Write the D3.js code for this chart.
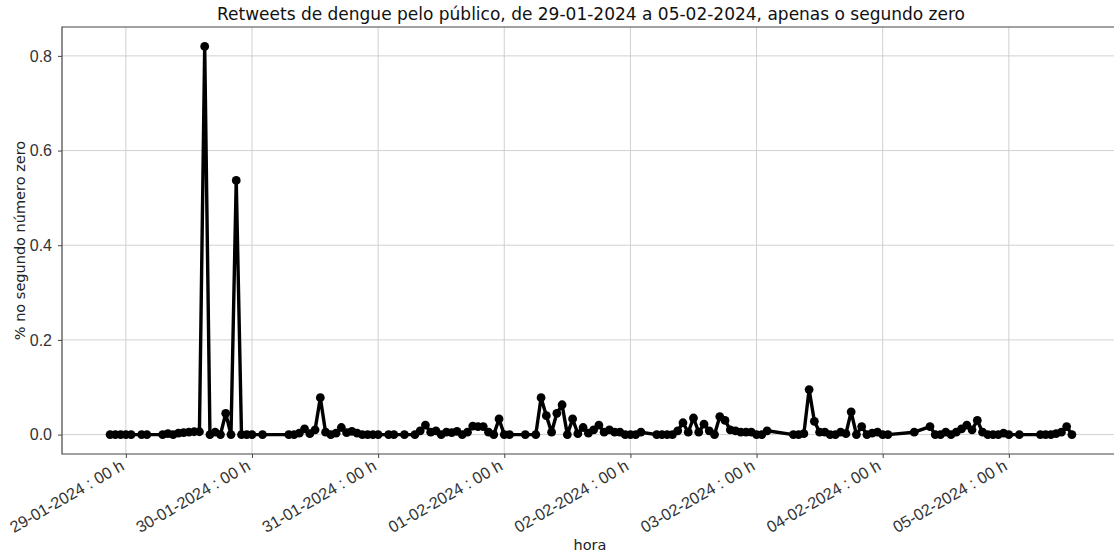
<!DOCTYPE html>
<html>
<head>
<meta charset="utf-8">
<script src="https://cdn.jsdelivr.net/npm/d3@7"></script>
<style>
  body { margin: 0; background: #fff; }
  svg { font-family: "DejaVu Sans", sans-serif; }
  .grid line { stroke: #cccccc; stroke-width: 0.9; }
  .axis text { fill: #333; font-size: 16px; }
  .axis path { display: none; }
  .axis line { stroke: #444; }
</style>
</head>
<body>
<svg width="1114" height="555"></svg>
<script>
// hours counted from 29-01-2024 00:00
var hours = [
  -3, -2, -1, 0, 1, 3, 4, 7, 8, 9, 10, 11, 12, 13, 14, 15, 16, 17, 18, 19, 20, 21, 22, 23, 24, 26,
  31, 32, 33, 34, 35, 36, 37, 38, 39, 40, 41, 42, 43, 44, 45, 46, 47, 48,
  50, 51, 53, 55, 56, 57, 58, 59, 60, 61, 62, 63, 64, 65, 66, 67, 68, 69, 70, 71, 72, 73, 76, 78,
  79, 80, 81, 82, 83, 84, 85, 86, 87, 88, 89, 90, 91, 92, 93, 94, 95, 96, 97, 98,
  101, 102, 103, 104, 105, 106, 107, 108, 109, 110, 111, 112, 113, 114, 115, 116, 117, 118, 119, 120, 121, 122,
  127, 128, 129, 130, 131, 132, 133, 134, 135, 136, 137, 138, 139, 140, 141, 142, 143, 144, 145,
  150, 153, 154, 155, 156, 157, 158, 159, 160, 161, 162, 163, 164, 165, 166, 167, 168, 170,
  174, 175, 176, 177, 178, 179, 180
];
var values = [
  0, 0, 0, 0, 0, 0, 0, 0, 0.002, 0, 0.003, 0.004, 0.005, 0.006, 0.006, 0.82, 0, 0.005, 0, 0.045, 0, 0.537, 0, 0, 0, 0,
  0, 0, 0.003, 0.012, 0.002, 0.01, 0.078, 0.005, 0, 0.003, 0.015, 0.004, 0.007, 0.003, 0, 0, 0, 0,
  0, 0, 0, 0, 0.008, 0.02, 0.005, 0.008, 0, 0.005, 0.004, 0.007, 0, 0.005, 0.018, 0.017, 0.017, 0.005, 0, 0.033, 0, 0, 0, 0,
  0.078, 0.04, 0.005, 0.045, 0.063, 0, 0.033, 0.002, 0.015, 0.003, 0.01, 0.02, 0.005, 0.01, 0.005, 0.005, 0, 0, 0, 0.005,
  0, 0, 0, 0, 0.008, 0.025, 0.005, 0.035, 0.005, 0.022, 0.008, 0, 0.038, 0.03, 0.01, 0.008, 0.005, 0.005, 0.005, 0, 0, 0.008,
  0, 0, 0.002, 0.095, 0.028, 0.005, 0.005, 0, 0, 0.005, 0.002, 0.048, 0, 0.017, 0, 0.003, 0.005, 0, 0,
  0.005, 0.017, 0, 0, 0.005, 0, 0.005, 0.012, 0.02, 0.01, 0.03, 0.005, 0, 0, 0, 0.003, 0, 0,
  0, 0, 0, 0.002, 0.005, 0.017, 0
];
var yTicks = [0, 0.2, 0.4, 0.6, 0.8];
var dayTicks = ['2024-01-29', '2024-01-30', '2024-01-31', '2024-02-01',
  '2024-02-02', '2024-02-03', '2024-02-04', '2024-02-05'];

var title = 'Retweets de dengue pelo público, de 29-01-2024 a 05-02-2024, apenas o segundo zero';
var xLabel = 'hora';
var yLabel = '% no segundo número zero';

var margin = { top: 27, right: -6, bottom: 101, left: 62 };
var W = 1114, H = 555;
var width = W - margin.left - margin.right;
var height = H - margin.top - margin.bottom;

var start = new Date(2024, 0, 29, 0, 0, 0);
var data = hours.map(function(h, i) {
  return { t: new Date(start.getTime() + h * 3600000), v: values[i] };
});

var svg = d3.select('svg');
var g = svg.append('g')
  .attr('transform', 'translate(' + margin.left + ',' + margin.top + ')');

// matplotlib-like 5% padding
var tExt = d3.extent(data, function(d) { return d.t.getTime(); });
var tPad = (tExt[1] - tExt[0]) * 0.05;
var vExt = d3.extent(data, function(d) { return d.v; });
var vPad = (vExt[1] - vExt[0]) * 0.05;

var x = d3.scaleTime()
  .domain([new Date(tExt[0] - tPad), new Date(tExt[1] + tPad)])
  .range([0, width]);
var y = d3.scaleLinear()
  .domain([vExt[0] - vPad, vExt[1] + vPad])
  .range([height, 0]);

var parseDay = d3.timeParse('%Y-%m-%d');
var xTickDates = dayTicks.map(parseDay);

// grid
g.append('g').attr('class', 'grid')
  .selectAll('line').data(xTickDates).enter().append('line')
  .attr('x1', function(d) { return x(d); })
  .attr('x2', function(d) { return x(d); })
  .attr('y1', 0).attr('y2', height);
g.append('g').attr('class', 'grid')
  .selectAll('line').data(yTicks).enter().append('line')
  .attr('x1', 0).attr('x2', width)
  .attr('y1', function(d) { return y(d); })
  .attr('y2', function(d) { return y(d); });

// axes
var xAxis = d3.axisBottom(x)
  .tickValues(xTickDates)
  .tickSize(4)
  .tickFormat(d3.timeFormat('%d-%m-%Y : %H h'));
g.append('g')
  .attr('class', 'axis x-axis')
  .attr('transform', 'translate(0,' + height + ')')
  .call(xAxis)
  .selectAll('text')
    .attr('x', 0)
    .attr('y', 0)
    .attr('dy', 0)
    .attr('text-anchor', 'end')
    .style('font-size', '16.3px')
    .attr('transform', 'translate(-1,15) rotate(-30)');

var yAxis = d3.axisLeft(y)
  .tickValues(yTicks)
  .tickSize(4)
  .tickPadding(6)
  .tickFormat(d3.format('.1f'));
g.append('g')
  .attr('class', 'axis y-axis')
  .call(yAxis);

// spines (left, top, bottom)
g.append('path')
  .attr('d', 'M' + width + ',0H0V' + height + 'H' + width)
  .attr('fill', 'none')
  .attr('stroke', '#444')
  .attr('stroke-width', 1.2);

// series
var line = d3.line()
  .x(function(d) { return x(d.t); })
  .y(function(d) { return y(d.v); });

g.append('path')
  .datum(data)
  .attr('fill', 'none')
  .attr('stroke', '#000')
  .attr('stroke-width', 3.4)
  .attr('stroke-linejoin', 'round')
  .attr('d', line);

g.selectAll('circle')
  .data(data)
  .enter().append('circle')
  .attr('cx', function(d) { return x(d.t); })
  .attr('cy', function(d) { return y(d.v); })
  .attr('r', 4.4)
  .attr('fill', '#000');

// labels
svg.append('text')
  .attr('x', 591)
  .attr('y', 20)
  .attr('text-anchor', 'middle')
  .style('font-size', '17px')
  .style('fill', '#111')
  .text(title);

svg.append('text')
  .attr('x', 590)
  .attr('y', 550)
  .attr('text-anchor', 'middle')
  .style('font-size', '14.5px')
  .style('fill', '#222')
  .text(xLabel);

svg.append('text')
  .attr('transform', 'translate(25,' + (margin.top + height / 2) + ') rotate(-90)')
  .attr('text-anchor', 'middle')
  .style('font-size', '14.5px')
  .style('fill', '#222')
  .text(yLabel);
</script>
</body>
</html>
